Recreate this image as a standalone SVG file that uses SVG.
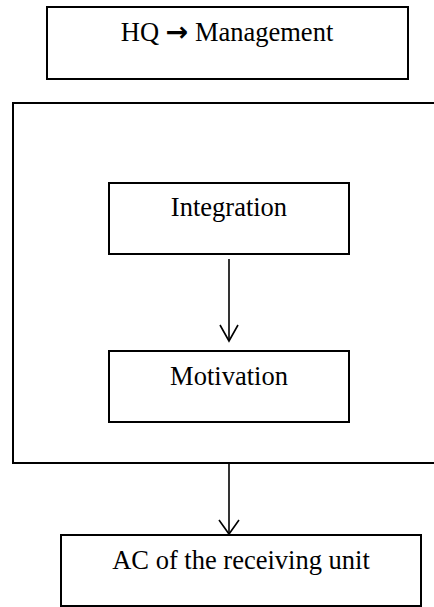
<svg xmlns="http://www.w3.org/2000/svg" width="434" height="607" viewBox="0 0 434 607">
  <style>
    .box { fill: #ffffff; stroke: #000000; stroke-width: 2; }
    .lbl { font-family: "Liberation Serif", "Times New Roman", serif; font-size: 26.5px; fill: #000000; text-anchor: middle; }
    .conn { stroke: #000000; stroke-width: 1.6; fill: none; }
    .head { stroke: #000000; stroke-width: 1.6; fill: none; stroke-linejoin: miter; }
  </style>
  <rect width="434" height="607" fill="#ffffff"/>

  <g id="hq">
    <rect class="box" x="47" y="7" width="361" height="72"/>
    <text class="lbl" x="227" y="41">HQ <tspan font-family="DejaVu Sans, sans-serif" font-weight="bold" font-size="27">→</tspan> Management</text>
  </g>

  <g id="group">
    <rect class="box" x="13" y="103" width="425" height="360"/>
  </g>

  <g id="integration">
    <rect class="box" x="109" y="183" width="240" height="71"/>
    <text class="lbl" x="229" y="216">Integration</text>
  </g>

  <g id="motivation">
    <rect class="box" x="109" y="351" width="240" height="71"/>
    <text class="lbl" x="229" y="385">Motivation</text>
  </g>

  <g id="receiving">
    <rect class="box" x="61" y="535" width="360" height="71"/>
    <text class="lbl" x="241" y="569">AC of the receiving unit</text>
  </g>

  <g id="connectors">
    <line class="conn" x1="229" y1="259" x2="229" y2="341"/>
    <polyline class="head" points="220,325 229,341 238,325"/>
    <line class="conn" x1="229" y1="463" x2="229" y2="534"/>
    <polyline class="head" points="219,520 229,534 239,520"/>
  </g>
</svg>
